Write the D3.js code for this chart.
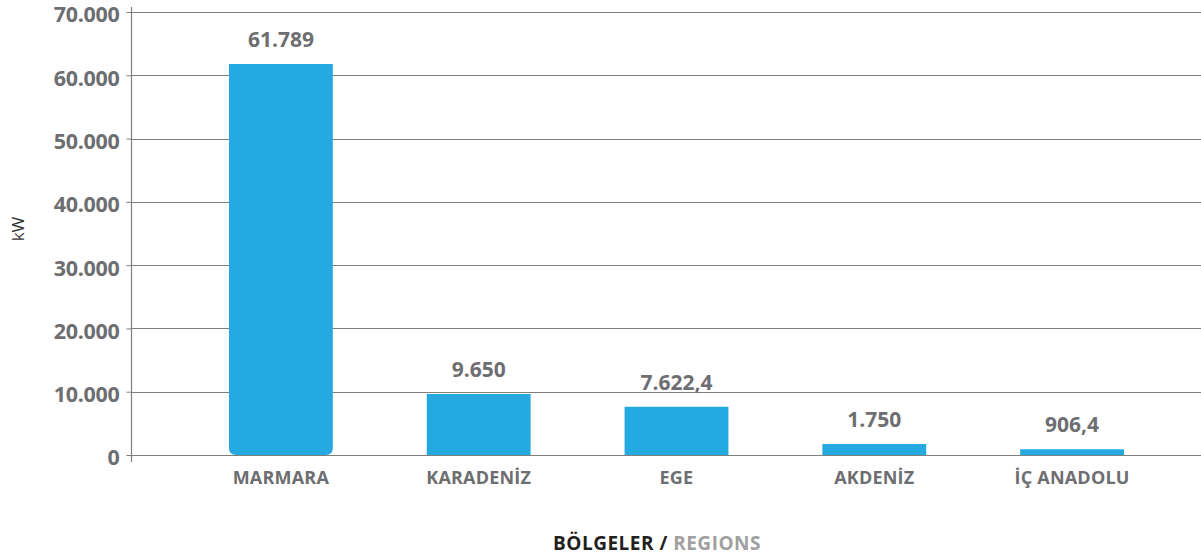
<!DOCTYPE html>
<html>
<head>
<meta charset="utf-8">
<script src="https://cdn.jsdelivr.net/npm/d3@7"></script>
<style>
  html, body { margin: 0; padding: 0; background: #ffffff; }
  svg { display: block; }
</style>
</head>
<body>
<svg id="chart" width="1201" height="560"></svg>
<script>
// Installed solar capacity by region (kW)
const regions = ["MARMARA", "KARADENİZ", "EGE", "AKDENİZ", "İÇ ANADOLU"];
const capacityKW = [61789, 9650, 7622.4, 1750, 906.4];
const yTicks = [0, 10000, 20000, 30000, 40000, 50000, 60000, 70000];

const trLocale = d3.formatLocale({ decimal: ",", thousands: ".", grouping: [3], currency: ["", " ₺"] });
const fmtInt = trLocale.format(",.0f");
const fmtDec = trLocale.format(",.1f");
const fmtValue = v => Number.isInteger(v) ? fmtInt(v) : fmtDec(v);

const svg = d3.select("#chart");
const plot = { left: 131, right: 1201, top: 12, bottom: 455 };

const grey = "#6d6e71";
const lineGrey = "#7f7f7f";
const barBlue = "#24a9e1";
const font = "'Open Sans', 'Liberation Sans', sans-serif";

const y = d3.scaleLinear().domain([0, 70000]).range([plot.bottom, plot.top]);
const x = d3.scaleBand().domain(regions).range([182, 1171]).paddingInner(0.475).paddingOuter(0.2375);

// horizontal gridlines
svg.append("g")
  .selectAll("line")
  .data(yTicks)
  .join("line")
  .attr("x1", plot.left).attr("x2", plot.right)
  .attr("y1", d => Math.round(y(d)) + 0.5).attr("y2", d => Math.round(y(d)) + 0.5)
  .attr("stroke", lineGrey).attr("stroke-width", 1);

// y axis
const yAxis = svg.append("g")
  .attr("transform", `translate(${plot.left + 0.5},0)`)
  .call(d3.axisLeft(y).tickValues(yTicks).tickFormat(trLocale.format(",d")).tickSize(5).tickPadding(7));
yAxis.select(".domain").remove();
yAxis.selectAll(".tick line").attr("stroke", lineGrey);
yAxis.selectAll(".tick text")
  .attr("y", 3)
  .attr("fill", grey)
  .attr("font-family", font)
  .attr("font-weight", 700)
  .attr("font-size", 21.5)
  .attr("letter-spacing", "-0.3px");
svg.append("line")
  .attr("x1", plot.left + 0.5).attr("x2", plot.left + 0.5)
  .attr("y1", 7).attr("y2", 462)
  .attr("stroke", lineGrey).attr("stroke-width", 1.2);

// bars (first bar has rounded bottom corners)
function barPath(x0, x1, y0, y1, r) {
  if (!r) return `M${x0},${y1}V${y0}H${x1}V${y1}Z`;
  return `M${x0},${y0}H${x1}V${y1 - r}Q${x1},${y1} ${x1 - r},${y1}H${x0 + r}Q${x0},${y1} ${x0},${y1 - r}Z`;
}
svg.append("g")
  .selectAll("path")
  .data(regions)
  .join("path")
  .attr("d", (d, i) => barPath(x(d), x(d) + x.bandwidth(), y(capacityKW[i]), y(0), i === 0 ? 7 : 0))
  .attr("fill", barBlue);

// value labels
svg.append("g")
  .selectAll("text")
  .data(regions)
  .join("text")
  .attr("x", d => x(d) + x.bandwidth() / 2)
  .attr("y", (d, i) => y(capacityKW[i]) - 17)
  .attr("text-anchor", "middle")
  .attr("fill", grey)
  .attr("font-family", font)
  .attr("font-weight", 700)
  .attr("font-size", 21)
  .text((d, i) => fmtValue(capacityKW[i]));

// category labels
svg.append("g")
  .selectAll("text")
  .data(regions)
  .join("text")
  .attr("x", d => x(d) + x.bandwidth() / 2)
  .attr("y", 484)
  .attr("text-anchor", "middle")
  .attr("fill", grey)
  .attr("font-family", font)
  .attr("font-weight", 700)
  .attr("font-size", 18)
  .attr("letter-spacing", "0.2px")
  .text(d => d);

// y axis title
svg.append("text")
  .attr("transform", "translate(24,229) rotate(-90)")
  .attr("text-anchor", "middle")
  .attr("fill", "#333333")
  .attr("font-family", font)
  .attr("font-size", 17)
  .text("kW");

// x axis title
const xt = svg.append("text")
  .attr("x", 657).attr("y", 550)
  .attr("text-anchor", "middle")
  .attr("font-family", font)
  .attr("font-weight", 700)
  .attr("font-size", 19)
  .attr("letter-spacing", "0.5px");
xt.append("tspan").attr("fill", "#231f20").text("BÖLGELER / ");
xt.append("tspan").attr("fill", "#a0a0a0").text("REGIONS");
</script>
</body>
</html>
